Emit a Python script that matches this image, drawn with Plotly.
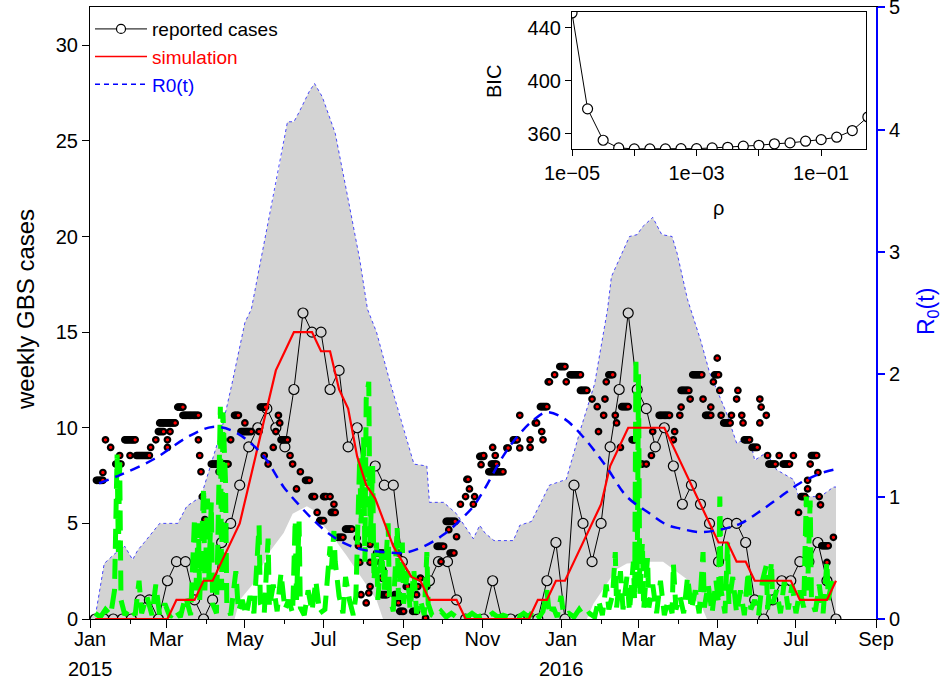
import numpy as np
import pandas as pd
import plotly.graph_objects as go

# ---------------- data ----------------
BASE = "2015-01-01"          # day 0 for all day-offset lists below

# weekly reported GBS cases, weeks starting 2015-01-05
week_start = "2015-01-05"
reported = [0, 0, 0, 0, 0, 1, 1, 0, 2, 3, 3, 1, 0, 1, 4, 5, 7, 9, 10, 11,
            10, 9, 12, 16, 15, 15, 12, 13, 9, 10, 7, 8, 7, 7, 3, 2, 2, 2, 3, 3,
            1, 0, 0, 0, 2, 0, 0, 0, 0, 0, 2, 4, 0, 7, 5, 3, 5, 9, 12, 16,
            12, 11, 9, 10, 8, 6, 7, 6, 5, 3, 5, 5, 4, 1, 0, 1, 2, 2, 3, 3,
            4, 2, 0]
simulation = [0, 0, 0, 0, 0, 0, 0, 0, 0, 1, 1, 1, 2, 2, 3, 4, 5, 7, 9, 11,
              13, 14, 15, 15, 15, 14, 14, 12, 11, 8.5, 7, 6.3, 5, 3.8, 3, 2.2, 2, 1, 1, 1,
              1, 0, 0, 0, 0, 0, 0, 0, 0, 1, 1, 2, 2, 3, 4, 5, 6, 8, 9, 10,
              10, 10, 10, 10, 9, 8, 7, 6, 5, 4, 4, 3, 3, 2, 2, 2, 2, 2, 1, 1,
              1, 1, 2]

# gray band (simulation envelope), day offsets and values
band_up_day = [5, 11, 19, 27, 33, 37, 42, 54, 68, 75, 86, 102, 110, 120, 125, 135,
               147, 153, 158, 162, 170, 174, 180, 190, 199, 209, 215, 222, 232, 243,
               251, 261, 263, 274, 284, 297, 302, 306, 313, 328, 333, 342, 356, 369,
               375, 380, 391, 398, 401, 404, 418, 424, 428, 436, 443, 451, 455, 463,
               473, 480, 493, 501, 511, 515, 524, 532, 545, 549, 566, 576, 578]
band_up_val = [0.5, 2.9, 3.4, 3.8, 3.1, 3.6, 4.0, 5.0, 5.0, 5.9, 6.4, 9.9, 12.3, 15.5, 16.2, 19.7,
               23.7, 26.0, 26.0, 26.5, 27.6, 28.0, 27.3, 25.4, 22.3, 18.8, 16.2, 15.0, 12.5, 9.9,
               8.1, 8.0, 6.1, 6.1, 5.5, 4.2, 4.9, 4.5, 4.1, 4.1, 4.9, 5.1, 7.0, 7.3,
               8.7, 9.9, 12.3, 15.0, 16.2, 17.9, 20.0, 20.1, 20.5, 21.0, 20.1, 20.0, 19.1, 16.7,
               14.6, 12.9, 10.8, 9.2, 9.5, 8.3, 8.7, 7.8, 7.3, 6.4, 6.4, 6.9, 6.9]
band_lo_day = [5, 112, 116, 126, 132, 140, 150, 157, 168, 173, 178, 186, 199, 207,
               214, 222, 227, 385, 390, 398, 403, 408, 416, 434, 444, 452, 462, 468,
               473, 478, 578]
band_lo_val = [0, 0, 1.0, 1.8, 2.6, 3.6, 4.5, 5.5, 5.9, 5.7, 5.1, 4.5, 3.3, 2.5,
               1.8, 1.0, 0, 0, 0.8, 1.6, 2.1, 2.6, 2.9, 3.0, 3.0, 2.6, 2.1, 1.0,
               0.8, 0, 0]

# R0(t) (right axis)
r0_day = [7, 24, 50, 76, 95, 112, 133, 150, 163, 173, 186, 199, 212, 225, 243, 258,
          274, 287, 297, 305, 320, 331, 344, 354, 367, 382, 400, 416, 434, 447,
          457, 473, 488, 504, 519, 535, 550, 566, 576]
r0_val = [1.11, 1.18, 1.31, 1.49, 1.57, 1.53, 1.35, 1.08, 0.92, 0.81, 0.69, 0.61, 0.565, 0.55,
          0.54, 0.59, 0.69, 0.81, 0.92, 1.05, 1.33, 1.49, 1.63, 1.69, 1.64, 1.49, 1.245, 1.0,
          0.86, 0.77, 0.74, 0.71, 0.73, 0.78, 0.88, 1.0, 1.11, 1.19, 1.22]

# dark red dotted series: runs (first day, last day, value)
dot_runs = [
    (5, 10, 7.25), (10, 10, 7.66), (12, 12, 9.37), (16, 16, 8.97), (20, 24, 8.1), (23, 23, 8.55),
    (31, 31, 8.55), (27, 35, 9.37), (36, 46, 8.55), (47, 47, 8.97), (51, 51, 9.37), (53, 57, 9.8),
    (54, 66, 10.25), (60, 60, 9.37), (62, 62, 9.8), (60, 60, 8.97), (68, 72, 11.08), (72, 84, 10.65),
    (84, 84, 9.37), (85, 85, 8.55), (86, 86, 7.7), (87, 87, 6.4), (89, 89, 5.2), (94, 107, 8.1),
    (100, 100, 7.7), (103, 103, 9.37), (109, 109, 9.37), (112, 115, 10.65), (117, 125, 9.8),
    (120, 120, 10.25), (131, 131, 9.8), (132, 136, 11.08), (135, 135, 8.55), (138, 138, 8.1),
    (142, 142, 8.97), (144, 144, 9.8), (146, 146, 10.65), (147, 147, 10.25), (148, 153, 9.37),
    (155, 155, 8.55), (157, 157, 8.1), (160, 160, 6.8), (163, 163, 7.7), (167, 170, 7.25),
    (172, 174, 6.4), (176, 176, 5.57), (178, 181, 5.14), (181, 183, 6.4), (186, 186, 6.4),
    (187, 190, 5.57), (189, 189, 6.0), (192, 196, 4.27), (198, 203, 4.7), (207, 207, 4.23),
    (208, 208, 3.83), (209, 209, 2.96), (210, 210, 1.27), (214, 214, 0.84), (216, 216, 1.36),
    (217, 217, 3.9), (217, 217, 2.96), (217, 217, 1.7), (222, 227, 3.45), (225, 225, 2.96),
    (226, 226, 2.14), (227, 227, 2.58), (226, 230, 1.27), (236, 239, 1.27), (238, 238, 3.9),
    (239, 239, 3.45), (239, 239, 0.84), (240, 243, 0.4), (245, 246, 1.7), (250, 253, 0.4),
    (253, 253, 1.27), (254, 254, 1.7), (256, 256, 2.14), (260, 260, 0.05), (261, 261, 1.7),
    (269, 274, 3.8), (272, 272, 3.0), (276, 283, 5.1), (278, 278, 4.67), (279, 282, 3.45),
    (284, 284, 4.3), (287, 287, 6.0), (291, 291, 6.4), (292, 293, 7.3), (294, 294, 6.8),
    (297, 297, 6.0), (298, 298, 6.4), (302, 305, 8.5), (303, 303, 8.07), (305, 305, 8.55),
    (309, 320, 7.7), (311, 315, 8.1), (312, 312, 8.97), (314, 314, 8.55), (323, 324, 8.94),
    (328, 331, 9.37), (333, 333, 8.94), (333, 333, 10.65), (341, 341, 9.37), (341, 341, 8.97),
    (345, 346, 10.25), (349, 354, 11.1), (350, 350, 9.8), (351, 351, 9.37), (355, 356, 12.4),
    (360, 360, 12.77), (364, 368, 13.2), (369, 369, 12.4), (372, 380, 12.77), (380, 385, 11.95),
    (389, 389, 11.5), (393, 393, 11.1), (394, 394, 9.8), (398, 398, 10.65), (399, 399, 11.5),
    (400, 400, 12.4), (402, 405, 12.77), (407, 407, 10.65), (408, 408, 10.25), (411, 411, 8.97),
    (412, 417, 11.1), (420, 422, 9.37), (426, 428, 8.1), (431, 431, 8.1), (435, 435, 8.55),
    (436, 436, 9.8), (441, 449, 10.65), (452, 452, 9.37), (453, 453, 9.8), (457, 457, 10.65),
    (458, 458, 11.08), (458, 464, 11.95), (465, 465, 11.5), (467, 474, 12.77), (475, 475, 11.5),
    (477, 481, 10.65), (481, 481, 11.08), (483, 483, 12.4), (484, 487, 12.77), (486, 486, 13.64),
    (488, 488, 11.95), (489, 489, 10.65), (491, 496, 10.25), (497, 497, 10.65), (501, 501, 11.5),
    (502, 502, 11.95), (505, 505, 10.65), (506, 506, 10.25), (507, 511, 9.37), (513, 517, 8.97),
    (519, 519, 11.5), (519, 519, 10.25), (520, 520, 11.08), (524, 524, 10.65), (525, 525, 8.55),
    (526, 531, 8.1), (534, 534, 8.55), (537, 542, 8.1), (545, 545, 8.55), (549, 549, 5.57),
    (551, 554, 6.4), (556, 556, 7.25), (556, 556, 6.8), (558, 558, 8.1), (559, 563, 8.55),
    (564, 564, 7.66), (565, 565, 6.4), (566, 566, 5.97), (567, 572, 3.83), (571, 571, 2.96),
    (576, 576, 4.27),
]

# green dashed series (day offset, value)
green_pts = [
    (4, 0.3), (8, 0.1), (12, 0.5), (16, 0.2), (19, 1.5), (21, 8.6), (22, 3.5), (23, 8.2), (24, 1.0),
    (27, 0.2), (31, 0.6), (35, 0.2), (38, 2.0), (40, 0.3), (44, 1.2), (48, 0.2), (51, 1.8), (54, 0.2),
    (58, 0.8), (62, 0.1), (66, 0.5), (70, 0.1), (74, 1.2), (78, 0.2), (81, 5.3), (82, 1.5), (84, 5.0),
    (85, 1.0), (88, 6.9), (89, 1.5), (91, 6.3), (92, 2.0), (94, 6.1), (95, 0.8), (98, 0.3), (101, 11.1),
    (102, 1.5), (103, 10.8), (105, 7.2), (106, 0.8), (109, 0.2), (113, 2.5), (115, 0.4), (118, 1.0),
    (121, 0.2), (124, 1.2), (127, 0.3), (131, 4.9), (132, 0.8), (135, 0.3), (138, 4.2), (139, 0.6),
    (142, 1.8), (145, 0.4), (148, 2.4), (151, 0.5), (154, 1.0), (157, 0.3), (159, 5.2), (160, 1.0),
    (162, 5.1), (163, 0.6), (166, 0.2), (169, 1.5), (172, 0.4), (175, 2.0), (178, 0.3), (182, 0.5),
    (186, 3.8), (187, 2.6), (189, 4.6), (190, 3.0), (193, 1.2), (196, 0.3), (198, 2.2), (201, 1.0),
    (204, 0.2), (206, 1.2), (209, 8.5), (210, 5.0), (212, 9.5), (213, 3.0), (214, 11.5), (216, 12.4),
    (217, 4.0), (219, 8.0), (220, 2.0), (222, 4.0), (223, 1.0), (226, 3.5), (228, 1.5), (231, 5.0),
    (232, 1.2), (235, 0.4), (238, 4.8), (239, 1.0), (242, 4.0), (243, 0.8), (246, 2.5), (248, 0.5),
    (251, 2.5), (253, 0.3), (256, 1.0), (259, 0.2), (261, 3.5), (262, 0.8), (265, 0.2), (268, 0.1),
    (272, 0.4), (276, 0.1), (280, 0.3), (284, 0.1), (288, 0.2), (292, 0.1), (296, 0.3), (300, 0.1),
    (304, 0.2), (308, 0.1), (312, 0.3), (316, 0.1), (320, 0.2), (324, 0.1), (328, 0.2), (332, 0.1),
    (336, 0.3), (340, 0.1), (344, 0.5), (348, 0.1), (351, 0.4), (354, 1.5), (356, 0.2), (359, 0.6),
    (362, 0.1), (365, 1.2), (367, 0.2), (371, 0.3), (375, 0.1), (379, 0.5), (383, 0.1), (387, 0.3),
    (391, 0.1), (394, 1.0), (397, 0.2), (400, 1.8), (402, 0.5), (405, 1.3), (407, 3.5), (408, 0.6),
    (411, 2.5), (413, 0.5), (416, 2.2), (418, 0.4), (421, 3.0), (422, 1.0), (423, 13.7), (424, 2.5),
    (425, 12.8), (426, 1.2), (428, 4.0), (429, 0.5), (432, 3.2), (433, 0.6), (436, 1.8), (439, 0.3),
    (442, 2.0), (445, 0.2), (448, 1.0), (451, 0.3), (452, 2.9), (454, 0.5), (457, 1.2), (460, 0.3),
    (463, 2.2), (466, 0.5), (469, 1.5), (472, 0.3), (475, 3.5), (476, 0.6), (479, 1.8), (482, 0.3),
    (485, 2.0), (487, 0.8), (488, 6.4), (489, 1.5), (492, 0.3), (494, 4.0), (495, 0.8), (498, 2.2),
    (501, 0.3), (504, 1.5), (507, 0.2), (510, 2.5), (512, 0.5), (515, 1.0), (518, 0.2), (521, 2.0),
    (524, 2.8), (525, 0.5), (528, 3.0), (529, 0.8), (532, 1.5), (535, 0.3), (538, 2.0), (541, 0.5),
    (544, 1.8), (547, 0.3), (550, 1.5), (553, 0.6), (555, 6.4), (556, 1.5), (558, 6.2), (559, 1.0),
    (562, 0.4), (565, 1.8), (568, 0.3), (571, 3.0), (572, 1.0), (575, 2.0), (578, 1.8),
]
green_day = [d for d, _ in green_pts]
green_val = [v for _, v in green_pts]

# inset: BIC against rho
rho_exp = [-5, -4.75, -4.5, -4.25, -4, -3.75, -3.5, -3.25, -3, -2.75,
           -2.5, -2.25, -2, -1.75, -1.5, -1.25, -1, -0.75, -0.5, -0.25]
bic = [451.3, 378.9, 355.2, 349.4, 348.7, 348.7, 348.7, 348.9, 348.9, 349.4,
       349.9, 350.7, 351.4, 352.5, 353.2, 354.5, 355.7, 357.5, 362.5, 372.8]

month_fmt = "%b"
year_labels = ["2015", "2016"]
year_pos = ["2015-01-01", "2016-01-01"]

# ---------------- helpers ----------------
base = pd.Timestamp(BASE)


def to_date(days):
    return base + pd.to_timedelta(np.asarray(days, dtype=float), unit="D")


weeks = pd.date_range(week_start, periods=len(reported), freq="7D")

dot_days, dot_vals = [], []
for d1, d2, v in dot_runs:
    for d in range(d1, d2 + 1):
        dot_days.append(d)
        dot_vals.append(v)

FONT = "Liberation Sans, Arial, Helvetica, sans-serif"
TF = 20  # tick font size

fig = go.Figure()

# gray envelope
band_x = list(to_date(band_up_day)) + list(to_date(band_lo_day[::-1]))
band_y = band_up_val + band_lo_val[::-1]
fig.add_trace(go.Scatter(x=band_x, y=band_y, fill="toself", fillcolor="#D3D3D3",
                         mode="none", showlegend=False, hoverinfo="skip"))
fig.add_trace(go.Scatter(x=to_date(band_up_day), y=band_up_val, mode="lines",
                         line=dict(color="blue", width=0.7, dash="dot"),
                         showlegend=False, hoverinfo="skip"))

# reported cases (circles on gray background)
fig.add_trace(go.Scatter(x=weeks, y=reported, mode="lines+markers",
                         line=dict(color="black", width=1),
                         marker=dict(symbol="circle", size=10, color="#D3D3D3",
                                     line=dict(color="black", width=1.2)),
                         showlegend=False))

# dark red dots
fig.add_trace(go.Scatter(x=to_date(dot_days), y=dot_vals, mode="markers",
                         marker=dict(symbol="circle", size=5.5, color="red",
                                     line=dict(color="black", width=2.2)),
                         showlegend=False))

# green dashed
fig.add_trace(go.Scatter(x=to_date(green_day), y=green_val, mode="lines",
                         line=dict(color="#00FF00", width=5, dash="20px,10px"),
                         showlegend=False))

# simulation
fig.add_trace(go.Scatter(x=weeks, y=simulation, mode="lines",
                         line=dict(color="red", width=2.2), showlegend=False))

# R0(t)
fig.add_trace(go.Scatter(x=to_date(r0_day), y=r0_val, mode="lines", yaxis="y2",
                         line=dict(color="blue", width=2.5, dash="10px,7px", shape="spline"),
                         showlegend=False))

# legend-only entries
fig.add_trace(go.Scatter(x=[None], y=[None], mode="lines+markers", name="reported cases",
                         line=dict(color="black", width=1),
                         marker=dict(symbol="circle", size=9, color="white",
                                     line=dict(color="black", width=1.2))))
fig.add_trace(go.Scatter(x=[None], y=[None], mode="lines",
                         name='<span style="color:red">simulation</span>',
                         line=dict(color="red", width=1.5)))
fig.add_trace(go.Scatter(x=[None], y=[None], mode="lines",
                         name='<span style="color:blue">R0(t)</span>',
                         line=dict(color="#0000FF", width=1.6, dash="5px,4px")))

# inset
fig.add_trace(go.Scatter(x=[10 ** e for e in rho_exp], y=bic, mode="lines+markers",
                         xaxis="x3", yaxis="y3", showlegend=False,
                         line=dict(color="black", width=1),
                         marker=dict(symbol="circle", size=10, color="white",
                                     line=dict(color="black", width=1.2)),
                         cliponaxis=True))

PL, PR, PT, PB = 90, 876, 7, 619
W, H = PR - PL, PB - PT


def px(xp):
    return (xp - PL) / W


def py(yp):
    return (PB - yp) / H


def note(text, xp, yp, size, angle=0, color="black", xref="paper", xval=None):
    return dict(text=text, xref=xref, yref="paper",
                x=px(xp) if xval is None else xval, y=py(yp),
                xanchor="center", yanchor="middle", textangle=angle,
                showarrow=False, font=dict(size=size, color=color))


fig.update_layout(
    width=946, height=683,
    margin=dict(l=PL, r=946 - PR, t=PT, b=683 - PB, autoexpand=False),
    paper_bgcolor="white", plot_bgcolor="white",
    font=dict(family=FONT, size=TF, color="black"),
    showlegend=True,
    legend=dict(x=0.0, y=0.995, xanchor="left", yanchor="top",
                bgcolor="rgba(0,0,0,0)", font=dict(size=19),
                tracegroupgap=0, itemwidth=52),
    xaxis=dict(type="date", range=["2015-01-01", "2016-09-01"], automargin=False,
               showline=True, linecolor="black", linewidth=1, mirror=True,
               ticks="outside", ticklen=8, tickcolor="black",
               tick0="2015-01-01", dtick="M2", tickformat=month_fmt,
               ticklabelstandoff=-6,
               minor=dict(dtick="M1", tick0="2015-01-01", ticks="outside",
                          ticklen=4, tickcolor="black", showgrid=False),
               showgrid=False, zeroline=False, tickfont=dict(size=TF)),
    yaxis=dict(range=[0, 32], showline=True, linecolor="black", linewidth=1,
               automargin=False,
               ticks="outside", ticklen=7, tickcolor="black", dtick=5,
               showgrid=False, zeroline=False, tickfont=dict(size=TF)),
    yaxis2=dict(range=[0, 5.003], overlaying="y", side="right", anchor="x",
                automargin=False,
                showline=True, linecolor="blue", linewidth=2,
                ticks="outside", ticklen=7, tickcolor="blue", tickwidth=1.5,
                tickvals=[0, 1, 2, 3, 4, 5], ticklabeloverflow="allow",
                showgrid=False, zeroline=False, tickfont=dict(size=TF, color="black")),
    xaxis3=dict(domain=[px(572), px(866)], anchor="y3", type="log", automargin=False,
                range=[-5, -0.28], showline=True, linecolor="black", linewidth=1.2,
                mirror=True, ticks="outside", ticklen=6, tickcolor="black",
                tickvals=[1e-5, 1e-4, 1e-3, 1e-2, 1e-1],
                ticktext=["1e\u221205", "", "1e\u221203", "", "1e\u221201"],
                showgrid=False, zeroline=False, tickfont=dict(size=TF)),
    yaxis3=dict(domain=[py(149), py(12)], anchor="x3", automargin=False,
                range=[348.6, 452], showline=True, linecolor="black", linewidth=1.2,
                mirror=True, ticks="outside", ticklen=6, tickcolor="black",
                tickvals=[360, 400, 440], showgrid=False, zeroline=False,
                tickfont=dict(size=TF)),
    annotations=[
        note("weekly GBS cases", 25, 310, 24, angle=-90),
        note("R<sub>0</sub>(t)", 927, 312, 23, angle=-90, color="blue"),
        note("BIC", 494, 82, TF, angle=-90),
        note("\u03c1", 718, 208, TF),
    ] + [
        note(t, 0, 669, TF, xref="x", xval=p) for t, p in zip(year_labels, year_pos)
    ],
)

fig.write_html("out.html")
